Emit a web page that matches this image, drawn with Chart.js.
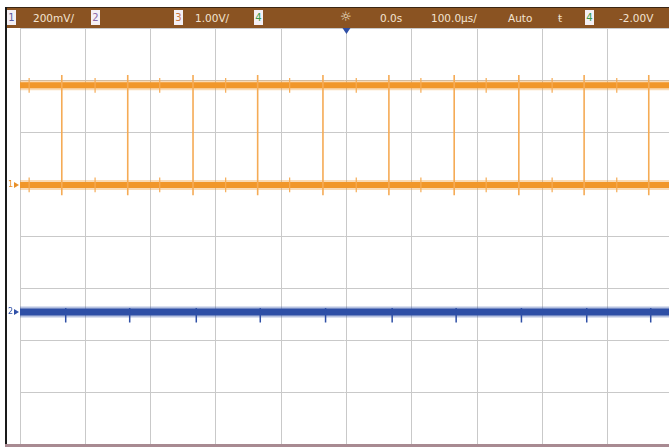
<!DOCTYPE html>
<html><head><meta charset="utf-8">
<script src="https://cdn.jsdelivr.net/npm/chart.js@4/dist/chart.umd.min.js"></script>
<style>
html,body{margin:0;padding:0;background:#fff;width:669px;height:447px;overflow:hidden;font-family:"DejaVu Sans",sans-serif;}
#c{position:absolute;left:0;top:0;}
#bar{position:absolute;left:5px;top:7px;width:664px;height:21px;background:#8a5322;border-top:1px solid #3a2614;box-sizing:border-box;}
.t{position:absolute;top:3px;color:#f3e4d2;font-size:10.5px;line-height:14px;white-space:nowrap;}
.b{position:absolute;top:2px;width:9px;height:15px;background:#f4f0f4;font-size:10px;line-height:15px;text-align:center;}
#lb{position:absolute;left:5px;top:7px;width:2px;height:440px;background:#1a1a1a;}
#bb{position:absolute;left:5px;top:444px;width:664px;height:3px;background:#a88a92;}
.m{position:absolute;font-size:8px;line-height:8px;}
</style></head>
<body>
<canvas id="c" width="669" height="447"></canvas>
<div id="bar">
  <div class="b" style="left:2px;color:#5a5aa0">1</div>
  <div class="t" style="left:28px">200mV/</div>
  <div class="b" style="left:86px;color:#8a6aa8">2</div>
  <div class="b" style="left:169px;color:#c87840">3</div>
  <div class="t" style="left:190px">1.00V/</div>
  <div class="b" style="left:249px;color:#3a9a4a">4</div>
  <div class="t" style="left:335px;font-size:13px;top:2px">☼</div>
  <div class="t" style="left:375px">0.0s</div>
  <div class="t" style="left:426px">100.0µs/</div>
  <div class="t" style="left:503px">Auto</div>
  <div class="t" style="left:553px">ŧ</div>
  <div class="b" style="left:580px;color:#3a9a4a">4</div>
  <div class="t" style="left:614px">-2.00V</div>
</div>
<div id="lb"></div>
<div id="bb"></div>
<div class="m" style="left:8px;top:181px;color:#e8902a">1</div>
<div class="m" style="left:8px;top:308px;color:#3050a8">2</div>
<script>
// Time axis in divisions (100 µs/div), vertical in divisions
const xMax = 9.94;
const ch1High = 6.90;
const ch1Low = 4.99;
const ch2Level = 2.55;
const edgeTimes = [0.64, 1.65, 2.65, 3.64, 4.64, 5.65, 6.65, 7.64, 8.64, 9.63];
const glitchTimes = [0.14, 1.15, 2.14, 3.15, 4.13, 5.15, 6.14, 7.14, 8.15, 9.14];
const ch2SpikeTimes = [0.70, 1.68, 2.70, 3.68, 4.68, 5.70, 6.68, 7.68, 8.68, 9.66];

const ORANGE = '#f2972a';
const ORANGE_HALO = 'rgba(242,151,42,0.35)';
const ORANGE_EDGE = '#f5ab55';
const BLUE = '#2f4fa6';
const BLUE_HALO = 'rgba(47,79,166,0.35)';

function seg(times, top, bottom) {
  const out = [];
  times.forEach(t => { out.push({x:t,y:top}, {x:t,y:bottom}, {x:t,y:null}); });
  return out;
}

const datasets = [
  {data: seg(edgeTimes, ch1High + 0.2, ch1Low - 0.2), borderColor: ORANGE_EDGE, borderWidth: 1.6},
  {data: seg(glitchTimes, ch1High + 0.14, ch1High - 0.14), borderColor: ORANGE_EDGE, borderWidth: 1.2},
  {data: seg(glitchTimes, ch1Low + 0.14, ch1Low - 0.14), borderColor: ORANGE_EDGE, borderWidth: 1.2},
  {data: [{x:0,y:ch1High},{x:xMax,y:ch1High}], borderColor: ORANGE_HALO, borderWidth: 10},
  {data: [{x:0,y:ch1Low},{x:xMax,y:ch1Low}], borderColor: ORANGE_HALO, borderWidth: 10},
  {data: [{x:0,y:ch1High},{x:xMax,y:ch1High}], borderColor: ORANGE, borderWidth: 6},
  {data: [{x:0,y:ch1Low},{x:xMax,y:ch1Low}], borderColor: ORANGE, borderWidth: 6},
  {data: seg(ch2SpikeTimes, ch2Level + 0.08, ch2Level - 0.2), borderColor: BLUE, borderWidth: 1.5},
  {data: [{x:0,y:ch2Level},{x:xMax,y:ch2Level}], borderColor: BLUE_HALO, borderWidth: 11},
  {data: [{x:0,y:ch2Level},{x:xMax,y:ch2Level}], borderColor: BLUE, borderWidth: 7}
].map(d => Object.assign({pointRadius:0, spanGaps:false, fill:false, tension:0, borderCapStyle:'butt'}, d));

const trigMarker = {
  id:'trig',
  afterDatasetsDraw(chart){
    const {ctx, scales:{x,y}} = chart;
    const px = x.getPixelForValue(5);
    const top = chart.chartArea.top;
    ctx.save();
    ctx.fillStyle = '#2f4fa6';
    ctx.beginPath();
    ctx.moveTo(px-4, top); ctx.lineTo(px+4, top); ctx.lineTo(px, top+6); ctx.closePath(); ctx.fill();
    const arrows = [[ch1Low, '#e8902a'], [ch2Level, '#3050a8']];
    arrows.forEach(([v,c]) => {
      const py = y.getPixelForValue(v);
      ctx.fillStyle = c;
      ctx.beginPath();
      ctx.moveTo(14, py-3); ctx.lineTo(19, py); ctx.lineTo(14, py+3); ctx.closePath(); ctx.fill();
    });
    ctx.restore();
  }
};

new Chart(document.getElementById('c'), {
  type: 'line',
  data: {datasets},
  options: {
    responsive:false, animation:false, devicePixelRatio:1,
    layout:{padding:{left:20, top:28, right:0, bottom:2}},
    plugins:{legend:{display:false}, tooltip:{enabled:false}},
    scales:{
      x:{type:'linear', min:0, max:xMax, ticks:{display:false, stepSize:1}, grid:{color:'#c9c9c9', drawTicks:false}, border:{display:false}},
      y:{type:'linear', min:0, max:8, ticks:{display:false, stepSize:1}, grid:{color:'#c9c9c9', drawTicks:false}, border:{display:false}}
    }
  },
  plugins:[trigMarker]
});
</script>
</body></html>
